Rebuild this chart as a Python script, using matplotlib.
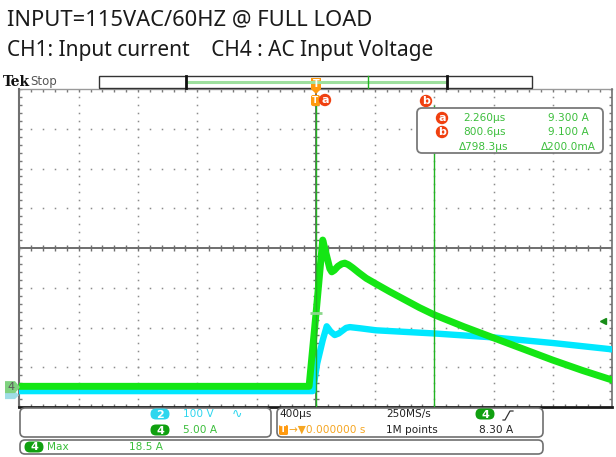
#!/usr/bin/env python3
"""Recreate a Tek scope capture: inrush current (CH4) and AC input voltage (CH2)."""

import matplotlib

matplotlib.use("Agg")
import matplotlib.pyplot as plt
import numpy as np
from matplotlib.patches import Circle, FancyBboxPatch, Polygon, Rectangle

W, H = 616, 457

# screen geometry in pixels (graticule 10 x 8 divisions)
PX_L, PX_R, PX_T, PX_B = 19.5, 612.0, 89.0, 407.0
DIV_W = (PX_R - PX_L) / 10
DIV_H = (PX_B - PX_T) / 8

# scope settings
TIME_PER_DIV = 400.0  # us / div, trigger at centre
CH4_SCALE = 5.0  # A / div
CH2_SCALE = 100.0  # V / div
CH4_GROUND_DIV = 0.5  # ground position above bottom edge
CH2_GROUND_DIV = 0.4

# CH4: input current (A) vs time (us)
cur_time = [-2000, -45, 2, 47, 75, 95, 108, 125, 150, 175, 196, 220, 250, 290,
            340, 405, 500, 600, 700, 800, 1000, 1200, 1400, 1600, 1800, 2000]
cur_amp = [0.1, 0.1, 9.3, 18.5, 16.4, 14.9, 14.5, 14.7, 15.2, 15.5, 15.6, 15.4,
           15.0, 14.4, 13.7, 13.0, 12.0, 11.0, 10.0, 9.1, 7.6, 6.2, 4.8, 3.4,
           2.1, 0.9]

# CH2: AC input voltage (V) vs time (us)
volt_time = [-2000, -20, 10, 47, 74, 100, 128, 155, 180, 205, 230, 300, 405,
             600, 800, 1000, 1200, 1400, 1600, 1800, 2000]
volt_val = [0, 0, 70, 128, 163, 150, 141, 145, 152, 159, 161, 158, 153, 149,
            145, 140, 135, 128, 121, 113, 105]

# cursors / measurements
cursor_a = 2.260
cursor_b = 800.6
cursor_a_amp = 9.300
cursor_b_amp = 9.100
trig_level = 8.30
max_amp = 18.5

TITLE_1 = "INPUT=115VAC/60HZ @ FULL LOAD"
TITLE_2 = "CH1: Input current    CH4 : AC Input Voltage"

GREEN = "#14e614"
CYAN = "#00e8ff"
CURSOR = "#22b422"
TXT_GREEN = "#3cbe3c"
PILL_GREEN = "#10a010"
PILL_CYAN = "#2ed6ee"
ORANGE = "#ff9a10"
RED = "#f04010"
UI_FONT = "DejaVu Sans"


def fig_axes(fig, **kw):
    rect = [PX_L / W, 1 - PX_B / H, (PX_R - PX_L) / W, (PX_B - PX_T) / H]
    return fig.add_axes(rect, **kw)


def hide(ax):
    ax.set_axis_off()
    ax.patch.set_visible(False)


def draw_graticule(ax):
    ax.set_xlim(0, 10)
    ax.set_ylim(0, 8)
    hide(ax)
    dot = dict(ls="none", marker="s", ms=1.1, mew=0, color="#8c8c8c")
    ys = np.arange(0, 8.01, 0.2)
    xs = np.arange(0, 10.01, 0.2)
    for gx in range(1, 10):
        if gx != 5:
            ax.plot(np.full_like(ys, gx), ys, **dot)
    for gy in range(1, 8):
        if gy != 4:
            ax.plot(xs, np.full_like(xs, gy), **dot)
    # centre cross with minor ticks
    ax.axhline(4, color="#6e6e6e", lw=1.4)
    ax.axvline(5, color="#6e6e6e", lw=1.4)
    tx = 3 / DIV_H
    ty = 3 / DIV_W
    ax.vlines(xs, 4 - tx, 4 + tx, color="#6e6e6e", lw=1)
    ax.hlines(ys, 5 - ty, 5 + ty, color="#6e6e6e", lw=1)
    # frame ticks
    ax.vlines(xs, 8 - tx, 8, color="#7a7a7a", lw=1)
    ax.vlines(xs, 0, tx, color="#7a7a7a", lw=1)
    ax.hlines(ys, 0, ty, color="#7a7a7a", lw=1)
    ax.hlines(ys, 10 - ty, 10, color="#7a7a7a", lw=1)
    ax.plot([0, 10], [8, 8], color="#9a9a9a", lw=1, clip_on=False)
    ax.plot([0, 0], [0, 8], color="#707070", lw=1.5, clip_on=False)
    ax.plot([10, 10], [0, 8], color="#707070", lw=1.2, clip_on=False)
    ax.plot([0, 10], [0, 0], color="#1a1a1a", lw=2, clip_on=False)


def pill(ov, cx, cy, label, color, w=19, h=11):
    ov.add_patch(FancyBboxPatch((cx - w / 2, cy - h / 2), w, h,
                                boxstyle=f"round,pad=0,rounding_size={h / 2}",
                                fc=color, ec="none"))
    ov.text(cx, cy + 0.5, label, color="white", fontsize=8, fontweight="bold",
            ha="center", va="center", family=UI_FONT)


def circ_label(ov, cx, cy, label):
    ov.add_patch(Circle((cx, cy), 6.2, fc=RED, ec="none"))
    ov.text(cx, cy + 0.3, label, color="white", fontsize=8, fontweight="bold",
            ha="center", va="center", family=UI_FONT)


def rbox(ov, x0, y0, x1, y1, r=5, ec="#707070", lw=1.2):
    ov.add_patch(FancyBboxPatch((x0, y0), x1 - x0, y1 - y0,
                                boxstyle=f"round,pad=0,rounding_size={r}",
                                fc="white", ec=ec, lw=lw))


def main() -> None:
    fig = plt.figure(figsize=(W / 100, H / 100), dpi=100)
    fig.patch.set_facecolor("white")

    gax = fig_axes(fig)
    draw_graticule(gax)

    # voltage axes first so the current trace sits on top
    vax = fig_axes(fig)
    hide(vax)
    vax.set_xlim(-5 * TIME_PER_DIV, 5 * TIME_PER_DIV)
    vax.set_ylim(-CH2_GROUND_DIV * CH2_SCALE, (8 - CH2_GROUND_DIV) * CH2_SCALE)
    vax.plot(volt_time, volt_val, color=CYAN, lw=4.6, solid_joinstyle="round")

    iax = fig_axes(fig)
    hide(iax)
    iax.set_xlim(-5 * TIME_PER_DIV, 5 * TIME_PER_DIV)
    iax.set_ylim(-CH4_GROUND_DIV * CH4_SCALE, (8 - CH4_GROUND_DIV) * CH4_SCALE)
    iax.plot(cur_time, cur_amp, color=GREEN, lw=5.0, solid_joinstyle="round")

    # cursors
    top_frac = (PX_B - 106) / (PX_B - PX_T)
    iax.axvline(cursor_a, ymax=top_frac, color=CURSOR, lw=1)
    iax.axvline(cursor_b, ymax=top_frac, color=CURSOR, lw=1)
    iax.hlines(cursor_a_amp, cursor_a - 40, cursor_a + 40, color="#8ad88a", lw=2)
    iax.plot([0.985], [trig_level], marker="<", ms=5, color="#178c17",
             transform=iax.get_yaxis_transform(), clip_on=False)

    # overlay in pixel coordinates for the scope UI
    ov = fig.add_axes([0, 0, 1, 1])
    ov.set_xlim(0, W)
    ov.set_ylim(H, 0)
    hide(ov)

    fig.text(7 / W, 1 - 25.5 / H, TITLE_1, fontsize=15.8, color="#1a1a1a",
             family="Noto Sans")
    fig.text(7 / W, 1 - 56 / H, TITLE_2, fontsize=15, color="#1a1a1a",
             family="Noto Sans")

    ov.text(3, 82, "Tek", fontsize=10, fontweight="bold", family="DejaVu Serif",
            va="center", color="#111111")
    ov.text(30, 82, "Stop", fontsize=8.5, family=UI_FONT, va="center",
            color="#555555")

    # record view bar
    ov.add_patch(Rectangle((99, 76), 433, 12, fc="white", ec="#333333", lw=1))
    ov.plot([187, 446], [82, 82], color="#9ee09e", lw=2.2)
    ov.plot([186, 186], [76, 88], color="#111111", lw=2)
    ov.plot([447, 447], [76, 88], color="#111111", lw=2)
    ov.plot([368, 368], [76, 88], color=CURSOR, lw=1)

    # trigger marker + cursor labels
    ov.add_patch(Polygon([(311, 78), (321, 78), (321, 89), (316, 94), (311, 89)],
                         closed=True, fc=ORANGE, ec="none"))
    ov.text(316, 84, "T", color="white", fontsize=7, fontweight="bold",
            ha="center", va="center", family=UI_FONT)
    ov.add_patch(FancyBboxPatch((311, 95), 9, 11, boxstyle="round,pad=0,rounding_size=2",
                                fc=ORANGE, ec="none"))
    ov.text(315.5, 100.5, "T", color="white", fontsize=6.5, fontweight="bold",
            ha="center", va="center", family=UI_FONT)
    circ_label(ov, 325, 100, "a")
    circ_label(ov, 426, 101, "b")

    # cursor readout
    rbox(ov, 417, 108, 603, 153, r=5, ec="#7a7a7a", lw=1.3)
    circ_label(ov, 442, 118, "a")
    circ_label(ov, 442, 132, "b")
    ui = dict(fontsize=7.6, family=UI_FONT, va="center", ha="center")
    ov.text(484, 118, f"{cursor_a:.3f}µs", color=TXT_GREEN, **ui)
    ov.text(568, 118, f"{cursor_a_amp:.3f} A", color=TXT_GREEN, **ui)
    ov.text(484, 132, f"{cursor_b:.1f}µs", color=TXT_GREEN, **ui)
    ov.text(568, 132, f"{cursor_b_amp:.3f} A", color=TXT_GREEN, **ui)
    ov.text(484, 147, f"Δ{cursor_b - cursor_a:.1f}µs", color=TXT_GREEN, **ui)
    ov.text(568, 147, f"Δ{(cursor_a_amp - cursor_b_amp) * 1000:.1f}mA",
            color=TXT_GREEN, **ui)

    # ground markers on the left edge
    g2 = PX_B - CH2_GROUND_DIV * DIV_H + 4
    g4 = PX_B - CH4_GROUND_DIV * DIV_H
    ov.add_patch(Polygon([(5, g2 - 4), (15, g2 - 4), (19, g2), (15, g2 + 4), (5, g2 + 4)],
                         fc="#9fdde6", ec="none"))
    ov.add_patch(Polygon([(5, g4 - 6), (15, g4 - 6), (20, g4), (15, g4 + 6), (5, g4 + 6)],
                         fc="#7fd27f", ec="none"))
    ov.text(11, g4, "4", color="#5a5a5a", fontsize=8, ha="center", va="center",
            family=UI_FONT)

    # bottom info panels
    rbox(ov, 20, 408, 271, 437)
    rbox(ov, 277, 408, 543, 437)
    rbox(ov, 20, 440, 543, 454)

    pill(ov, 160, 414, "2", PILL_CYAN)
    ov.text(183, 414, f"{CH2_SCALE:.0f} V", color=PILL_CYAN, fontsize=7.6,
            family=UI_FONT, va="center")
    ov.text(237, 414, "∿", color=PILL_CYAN, fontsize=9, family=UI_FONT,
            va="center", ha="center")
    pill(ov, 160, 430, "4", PILL_GREEN)
    ov.text(183, 430, f"{CH4_SCALE:.2f} A", color=TXT_GREEN, fontsize=7.6,
            family=UI_FONT, va="center")

    ov.text(279, 414, f"{TIME_PER_DIV:.0f}µs", color="#222222", fontsize=7.6,
            family=UI_FONT, va="center")
    ov.add_patch(FancyBboxPatch((279, 425), 9, 10, boxstyle="round,pad=0,rounding_size=1.5",
                                fc=ORANGE, ec="none"))
    ov.text(283.5, 430, "T", color="white", fontsize=6.5, fontweight="bold",
            ha="center", va="center", family=UI_FONT)
    ov.text(289, 430, "→▼0.000000 s", color="#f5a623", fontsize=7.6,
            family=UI_FONT, va="center")
    ov.text(386, 414, "250MS/s", color="#222222", fontsize=7.6, family=UI_FONT,
            va="center")
    ov.text(386, 430, "1M points", color="#222222", fontsize=7.6, family=UI_FONT,
            va="center")
    pill(ov, 485, 414, "4", PILL_GREEN)
    ov.plot([503, 505, 510, 513], [420, 420, 411, 411], color="#333333", lw=0.9)
    ov.text(496, 430, f"{trig_level:.2f} A", color="#222222", fontsize=7.6,
            family=UI_FONT, va="center", ha="center")

    pill(ov, 34, 447, "4", PILL_GREEN)
    ov.text(47, 447, "Max", color=TXT_GREEN, fontsize=7.6, family=UI_FONT,
            va="center")
    ov.text(129, 447, f"{max_amp:.1f} A", color=TXT_GREEN, fontsize=7.6,
            family=UI_FONT, va="center")

    fig.savefig("out.png", dpi=100)
    plt.close(fig)


if __name__ == "__main__":
    main()
